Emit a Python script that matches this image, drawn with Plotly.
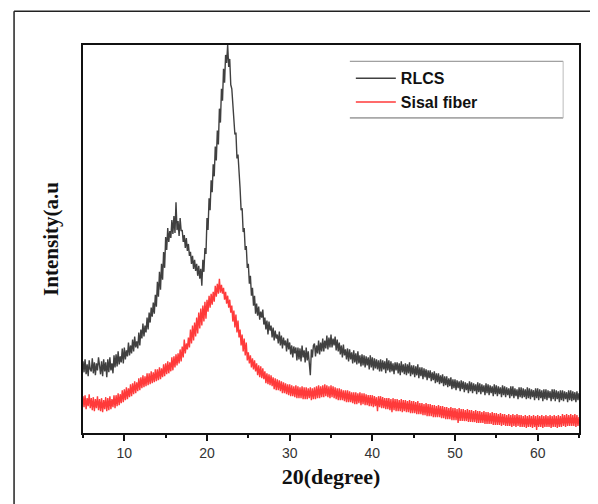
import plotly.graph_objects as go

# 2-theta sampling grid (degrees), 0.125 step from 5 to 65
two_theta = [5 + 0.125 * i for i in range(481)]

rlcs = [
    72, 61, 74, 59, 69, 57, 73, 64,
    62, 75, 60, 71, 58, 70, 63, 76,
    68, 59, 72, 57, 74, 62, 71, 56,
    74, 61, 76, 63, 70, 60, 78, 66,
    79, 67, 82, 69, 77, 71, 85, 70,
    86, 74, 83, 77, 91, 78, 88, 80,
    94, 82, 97, 86, 92, 85, 101, 88,
    104, 95, 110, 97, 108, 101, 116, 104,
    121, 111, 126, 117, 131, 120, 139, 127,
    152, 137, 162, 144, 170, 154, 182, 166,
    197, 184, 206, 192, 203, 196, 214, 200,
    218, 201, 232, 204, 213, 198, 216, 203,
    204, 192, 199, 186, 196, 183, 190, 178,
    182, 170, 178, 165, 174, 163, 170, 158,
    168, 155, 165, 148, 174, 162, 186, 180,
    216, 204, 236, 224, 254, 242, 270, 258,
    288, 274, 304, 290, 326, 312, 346, 334,
    366, 352, 380, 372, 390, 368, 376, 350,
    346, 330, 324, 300, 302, 276, 280, 254,
    246, 224, 226, 202, 206, 184, 188, 166,
    170, 150, 158, 138, 146, 128, 138, 120,
    130, 118, 127, 114, 122, 116, 124, 109,
    116, 104, 113, 99, 112, 103, 108, 96,
    106, 93, 103, 95, 99, 90, 102, 88,
    98, 85, 96, 88, 93, 82, 95, 84,
    91, 79, 88, 76, 87, 80, 86, 73,
    86, 74, 85, 72, 88, 76, 83, 71,
    86, 73, 82, 70, 58, 84, 76, 88,
    90, 77, 88, 80, 93, 79, 91, 82,
    95, 82, 93, 85, 98, 84, 96, 86,
    99, 86, 95, 88, 97, 83, 94, 82,
    91, 79, 88, 76, 89, 78, 84, 74,
    85, 72, 84, 74, 81, 70, 83, 71,
    80, 69, 82, 70, 78, 67, 79, 68,
    78, 66, 77, 68, 76, 64, 78, 66,
    76, 63, 75, 65, 74, 64, 73, 62,
    74, 62, 73, 64, 72, 60, 75, 63,
    73, 61, 72, 62, 70, 59, 71, 63,
    71, 60, 70, 58, 72, 61, 69, 59,
    70, 58, 69, 60, 71, 57, 68, 59,
    68, 56, 67, 58, 69, 55, 66, 57,
    66, 54, 65, 56, 64, 53, 63, 55,
    63, 52, 61, 53, 62, 50, 60, 51,
    60, 49, 58, 50, 59, 47, 57, 48,
    57, 46, 55, 47, 56, 44, 54, 45,
    54, 43, 53, 45, 52, 42, 53, 44,
    52, 41, 51, 43, 50, 40, 52, 42,
    51, 40, 50, 42, 49, 39, 51, 41,
    50, 39, 49, 41, 48, 38, 50, 40,
    49, 38, 48, 40, 47, 37, 49, 39,
    48, 37, 47, 39, 46, 36, 48, 38,
    47, 36, 46, 38, 45, 35, 47, 37,
    47, 35, 45, 37, 44, 34, 46, 36,
    46, 35, 45, 36, 44, 34, 46, 35,
    45, 34, 44, 36, 43, 33, 45, 35,
    45, 33, 44, 35, 43, 32, 44, 34,
    44, 33, 43, 35, 42, 32, 44, 34,
    44, 32, 43, 34, 42, 31, 43, 33,
    43, 32, 42, 34, 41, 31, 43, 33,
    43, 32, 42, 33, 41, 31, 42, 33,
    40,
]

sisal = [
    37, 26, 38, 24, 35, 27, 39, 25,
    35, 23, 36, 22, 34, 25, 37, 23,
    34, 22, 35, 21, 33, 24, 36, 22,
    35, 23, 37, 24, 34, 26, 38, 25,
    38, 27, 40, 28, 39, 30, 43, 31,
    44, 33, 46, 34, 45, 36, 49, 37,
    50, 39, 52, 40, 51, 42, 55, 43,
    56, 45, 58, 46, 57, 47, 60, 48,
    60, 49, 62, 50, 61, 51, 64, 52,
    64, 53, 66, 54, 65, 56, 69, 57,
    70, 59, 72, 60, 71, 62, 76, 63,
    77, 66, 79, 68, 80, 70, 84, 72,
    87, 76, 94, 80, 90, 84, 96, 86,
    104, 90, 108, 93, 111, 97, 116, 100,
    121, 105, 125, 108, 128, 112, 132, 115,
    134, 122, 138, 126, 140, 129, 142, 132,
    148, 137, 150, 140, 155, 141, 149, 140,
    146, 134, 142, 130, 138, 126, 134, 121,
    128, 112, 123, 106, 119, 101, 113, 96,
    104, 88, 99, 82, 95, 78, 91, 73,
    81, 70, 78, 66, 75, 64, 73, 62,
    70, 58, 68, 56, 67, 55, 65, 54,
    62, 50, 60, 49, 59, 48, 58, 47,
    56, 44, 55, 43, 54, 43, 53, 42,
    52, 40, 51, 40, 50, 39, 49, 38,
    49, 37, 48, 37, 47, 36, 48, 35,
    47, 35, 46, 35, 47, 34, 46, 34,
    46, 34, 45, 35, 46, 33, 45, 34,
    46, 34, 47, 35, 48, 35, 47, 36,
    48, 36, 49, 37, 48, 36, 47, 35,
    48, 36, 47, 35, 46, 34, 45, 33,
    45, 33, 44, 33, 43, 32, 43, 31,
    43, 31, 42, 31, 41, 30, 41, 29,
    41, 29, 40, 30, 41, 28, 40, 29,
    40, 28, 39, 28, 38, 27, 38, 27,
    38, 26, 37, 27, 36, 22, 37, 26,
    37, 25, 36, 25, 35, 24, 35, 24,
    35, 23, 34, 21, 35, 23, 34, 22,
    34, 22, 33, 22, 34, 21, 33, 22,
    33, 21, 32, 21, 33, 20, 32, 20,
    32, 20, 31, 19, 32, 19, 30, 19,
    30, 18, 29, 18, 30, 17, 29, 17,
    29, 17, 28, 16, 28, 16, 27, 16,
    28, 16, 27, 15, 27, 15, 26, 14,
    26, 14, 25, 14, 26, 13, 25, 13,
    25, 13, 24, 10, 25, 12, 24, 12,
    24, 12, 23, 12, 24, 11, 23, 11,
    23, 11, 22, 11, 23, 10, 22, 10,
    22, 10, 21, 10, 22, 9, 21, 9,
    21, 9, 20, 9, 21, 8, 20, 8,
    20, 8, 19, 8, 20, 7, 19, 8,
    19, 7, 18, 7, 19, 7, 18, 6,
    19, 7, 18, 6, 19, 7, 18, 6,
    18, 6, 17, 6, 18, 5, 17, 6,
    18, 6, 17, 5, 18, 6, 17, 3,
    18, 6, 17, 6, 18, 5, 17, 6,
    18, 6, 17, 6, 18, 5, 17, 6,
    18, 6, 17, 5, 18, 6, 17, 6,
    19, 7, 18, 6, 19, 7, 18, 7,
    19, 7, 18, 7, 19, 6, 18, 7,
    16,
]

x_tick_vals = [10, 20, 30, 40, 50, 60]
x_tick_text = ["10", "20", "30", "40", "50", "60"]
series_names = ["<b>RLCS</b>", "<b>Sisal fiber</b>"]

fig = go.Figure()
fig.add_trace(go.Scatter(x=two_theta, y=rlcs, mode="lines", name=series_names[0],
                         line=dict(color="#404040", width=1.4)))
fig.add_trace(go.Scatter(x=two_theta, y=sisal, mode="lines", name=series_names[1],
                         line=dict(color="#ff3a3a", width=1.4)))

fig.update_layout(
    width=598, height=504,
    margin=dict(l=75, r=27, t=37, b=79),
    paper_bgcolor="white", plot_bgcolor="white",
    showlegend=True,
    legend=dict(x=0.54, y=0.958, xanchor="left", yanchor="top",
                bgcolor="rgba(0,0,0,0)", borderwidth=0,
                font=dict(family="Liberation Sans, Arial", size=16, color="#111"),
                tracegroupgap=0, itemwidth=40),
    xaxis=dict(range=[5, 65], tickvals=x_tick_vals, ticktext=x_tick_text,
               ticks="outside", ticklen=6, tickwidth=2, tickcolor="#111",
               minor=dict(ticks="outside", ticklen=3, tickwidth=2, tickcolor="#111", dtick=5, tick0=5),
               showline=True, linecolor="#111", linewidth=2, mirror=True,
               showgrid=False, zeroline=False,
               tickfont=dict(family="Liberation Sans, Arial", size=14, color="#333"),
               title=dict(text="<b>20(degree)</b>", standoff=9,
                          font=dict(family="Liberation Serif, Times New Roman", size=22, color="#111"))),
    yaxis=dict(range=[0, 390], showticklabels=False, ticks="",
               showline=True, linecolor="#111", linewidth=2, mirror=True,
               showgrid=False, zeroline=False,
               title=dict(text="<b>Intensity(a.u</b>", standoff=17,
                          font=dict(family="Liberation Serif, Times New Roman", size=21, color="#111"))),
)

# outer frame of the figure (top and left edges visible)
fig.add_shape(type="line", xref="paper", yref="paper", x0=-0.139, x1=1.1, y0=1.087, y1=1.087,
              line=dict(color="#222", width=1.5))
fig.add_shape(type="line", xref="paper", yref="paper", x0=-0.139, x1=-0.139, y0=1.087, y1=-0.3,
              line=dict(color="#222", width=1.5))
# legend box lines
fig.add_shape(type="line", xref="paper", yref="paper", x0=0.538, x1=0.968, y0=0.958, y1=0.958,
              line=dict(color="#888", width=1))
fig.add_shape(type="line", xref="paper", yref="paper", x0=0.538, x1=0.968, y0=0.812, y1=0.812,
              line=dict(color="#666", width=1))
fig.add_shape(type="line", xref="paper", yref="paper", x0=0.968, x1=0.968, y0=0.958, y1=0.812,
              line=dict(color="#bbb", width=1))

fig.write_html("out.html")
